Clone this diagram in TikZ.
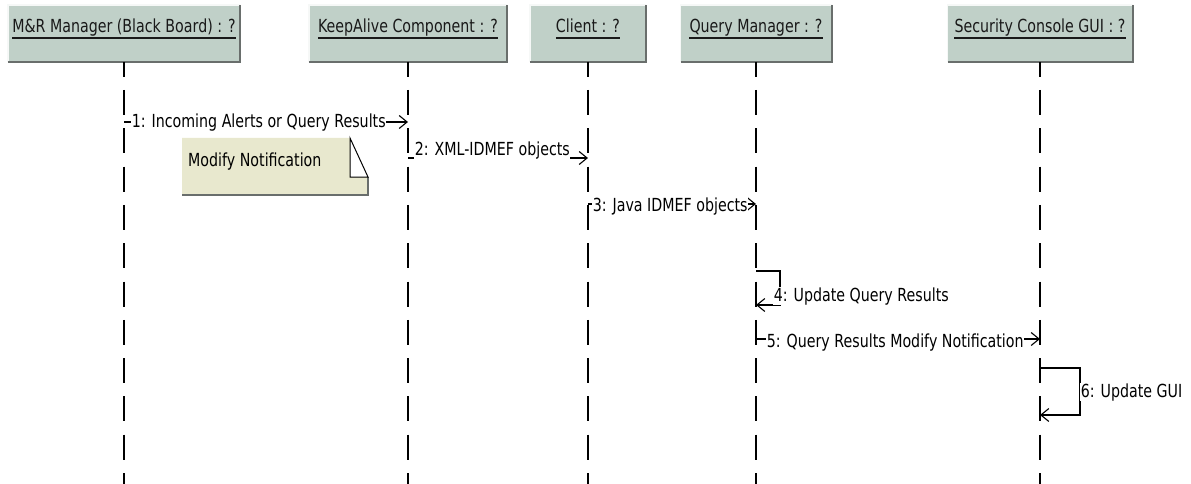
\documentclass[tikz,border=0pt]{standalone}
\usepackage{fontspec}
\setmainfont[FakeStretch=0.79]{DejaVu Sans}
\usetikzlibrary{arrows.meta}
\definecolor{hdrfill}{RGB}{192,208,200}
\definecolor{hdrshadow}{RGB}{105,110,108}
\definecolor{notefill}{RGB}{232,232,206}
\definecolor{txtdark}{RGB}{25,25,25}
\begin{document}
\begin{tikzpicture}[x=1pt,y=-1pt, font=\fontsize{18}{21}\selectfont,
  hdr/.style={rectangle, fill=hdrfill, minimum height=57pt, inner sep=0pt, outer sep=0pt},
  hdrtext/.style={inner sep=0pt, anchor=base, text=txtdark},
  life/.style={line width=1.2pt, dash pattern=on 25pt off 13.3pt, dash phase=10.3pt},
  msg/.style={line width=1.1pt, -{Straight Barb[length=8pt,width=13pt,line width=1.1pt]}},
  lbl/.style={fill=white, inner sep=0.6pt, text=black, anchor=base west}]
\useasboundingbox[fill=white] (0,0) rectangle (1191,484);

% header boxes
\node[hdr, minimum width=232pt] (mr) at (124,33.5) {};
\node[hdr, minimum width=198pt] (ka) at (408,33.5) {};
\node[hdr, minimum width=116pt] (cl) at (588,33.5) {};
\node[hdr, minimum width=151pt] (qm) at (756,33.5) {};
\node[hdr, minimum width=185pt] (sc) at (1040,33.5) {};
\foreach \b in {mr,ka,cl,qm,sc}{
  \draw[white!85!hdrfill, line width=1.2pt] (\b.south west) -- (\b.north west) -- (\b.north east);
  \draw[hdrshadow, line width=2pt] (\b.north east) -- (\b.south east) -- (\b.south west);
}

% header texts
\node[hdrtext] (mrt) at (124,33) {M\&R Manager (Black Board) : ?};
\node[hdrtext] (kat) at (408,33) {KeepAlive Component : ?};
\node[hdrtext] (clt) at (588,33) {Client : ?};
\node[hdrtext] (qmt) at (756,33) {Query Manager : ?};
\node[hdrtext] (sct) at (1040,33) {Security Console GUI : ?};
\foreach \t in {mrt,kat,clt,qmt,sct}{
  \draw[txtdark, line width=1.6pt] ([yshift=-5pt]\t.base west) -- ([yshift=-5pt]\t.base east);
}

% lifelines
\foreach \b in {mr,ka,cl,qm,sc}{
  \draw[life] (\b.south) -- (\b.south |- 0,484);
}

% note
\fill[notefill] (182,138) -- (350,138) -- (350,177) -- (368,177) -- (368,195) -- (182,195) -- cycle;
\draw[hdrshadow, line width=1.5pt] (182,195) -- (368,195) -- (368,177);
\draw[line width=1pt] (350,138) -- (350,177) -- (368,177) -- cycle;
\node[inner sep=0pt, anchor=base west] (note) at (188,166) {Modify Notification};

% messages
\draw[msg] (mr.south |- 0,122) -- (ka.south |- 0,122);
\node[lbl] (l1) at (131,128) {1: Incoming Alerts or Query Results};

\draw[msg] (ka.south |- 0,158) -- (cl.south |- 0,158);
\node[lbl] (l2) at (414,156) {2: XML-IDMEF objects};

\draw[msg] (cl.south |- 0,204) -- (qm.south |- 0,204);
\node[lbl] (l3) at (592,211) {3: Java IDMEF objects};

\draw[msg] (qm.south |- 0,271) -- ++(24,0) -- ++(0,34) -- (qm.south |- 0,305);
\node[lbl] (l4) at (773,301) {4: Update Query Results};

\draw[msg] (qm.south |- 0,339) -- (sc.south |- 0,339);
\node[lbl] (l5) at (766,347) {5: Query Results Modify Notification};

\draw[msg] (sc.south |- 0,368) -- ++(40,0) -- ++(0,47) -- (sc.south |- 0,415);
\node[lbl] (l6) at (1080,397) {6: Update GUI};
\end{tikzpicture}
\end{document}
